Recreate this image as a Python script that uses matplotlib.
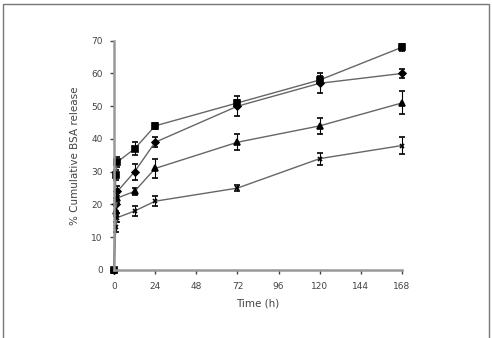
import matplotlib
matplotlib.use('Agg')
import matplotlib.pyplot as plt
from matplotlib.patches import Rectangle

# release data
time_h = [0, 1, 2, 12, 24, 72, 120, 168]
rel_a = [0, 29, 33, 37, 44, 51, 58, 68]
err_a = [0, 1.5, 1.5, 2, 1, 1, 1.2, 1]
rel_b = [0, 20, 24, 30, 39, 50, 57, 60]
err_b = [0, 2, 1.5, 2.5, 1.5, 3, 3, 1.5]
rel_c = [0, 18, 22, 24, 31, 39, 44, 51]
err_c = [0, 1.5, 1.5, 1, 3, 2.5, 2.5, 3.5]
rel_d = [0, 13, 16, 18, 21, 25, 34, 38]
err_d = [0, 1.5, 1.5, 1.5, 1.5, 1, 1.8, 2.7]

x_ticks = [0, 24, 48, 72, 96, 120, 144, 168]
y_ticks = [0, 10, 20, 30, 40, 50, 60, 70]

fig = plt.figure(figsize=(4.92, 3.38), dpi=100)
ax = fig.add_axes([0.2317, 0.2012, 0.5854, 0.6784])

series = [(rel_a, err_a, 's', 4.5), (rel_b, err_b, 'D', 3.5),
          (rel_c, err_c, '^', 4), (rel_d, err_d, 'x', 3.5)]
for vals, errs, mk, ms in series:
    cont = ax.errorbar(time_h, vals, yerr=errs, color='#666666', lw=1.0,
                       marker=mk, ms=ms, mfc='black', mec='black', mew=1.2,
                       ecolor='black', elinewidth=0.8, capsize=2.5, capthick=0.8)
    for art in cont.get_children():
        art.set_clip_on(False)

ax.set_xlim(0, 168)
ax.set_ylim(0, 70)
ax.set_xticks(x_ticks)
ax.set_yticks(y_ticks)
ax.tick_params(labelsize=6.5, colors='#444444', length=3, width=1, direction='out')
ax.tick_params(axis='x', pad=6)
ax.tick_params(axis='y', pad=5)
for s in ['top', 'right']:
    ax.spines[s].set_visible(False)
for s in ['left', 'bottom']:
    ax.spines[s].set_color('#999999')
    ax.spines[s].set_linewidth(1.8)
ax.set_xlabel('Time (h)', fontsize=7.5, color='#444444', labelpad=5)
ax.set_ylabel('% Cumulative BSA release', fontsize=7.5, color='#444444', labelpad=8)

fig.patches.append(Rectangle((3 / 492, -0.05), 486 / 492, 1 - 4 / 338 + 0.05,
                             transform=fig.transFigure, fill=False,
                             edgecolor='#777777', lw=1.0))

fig.savefig('out.png', dpi=100)
